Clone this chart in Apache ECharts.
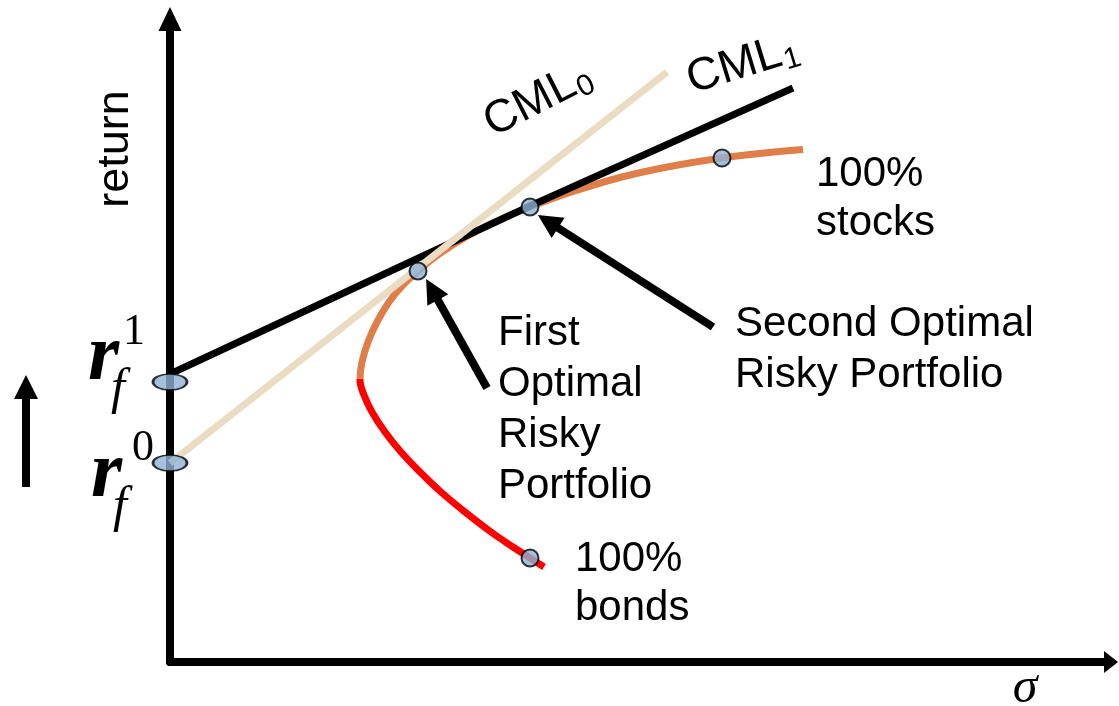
<!DOCTYPE html>
<html>
<head>
<meta charset="utf-8">
<script src="https://cdn.jsdelivr.net/npm/echarts@6/dist/echarts.min.js"></script>
<style>
  html, body { margin: 0; padding: 0; background: #ffffff; }
  #chart { width: 1119px; height: 706px; }
</style>
</head>
<body>
<div id="chart"></div>
<script>
// Risk (sigma) on x, expected return on y, both in arbitrary units.

// Efficient frontier: lower (inefficient) branch from 100% bonds up to the minimum-variance point
const frontierLower = [
  [37.4, 9.5], [36.0, 10.4], [34.3, 11.5], [32.1, 13.0], [29.5, 15.0],
  [27.1, 17.0], [25.0, 19.0], [23.1, 21.0], [21.5, 23.0], [20.2, 25.0],
  [19.4, 26.7], [19.0, 28.2]
];
// Efficient frontier: upper branch from the minimum-variance point to beyond 100% stocks
const frontierUpper = [
  [19.0, 28.2], [19.2, 30.0], [19.8, 32.0], [20.7, 34.0], [21.9, 36.0],
  [23.2, 37.6], [24.8, 39.1], [27.0, 40.85], [30.0, 42.75], [33.0, 44.25],
  [36.0, 45.5], [40.0, 46.95], [45.0, 48.45], [50.0, 49.55], [55.2, 50.4],
  [59.0, 50.85], [63.3, 51.25]
];
// Return level where the red (inefficient) part turns into the orange (efficient) part
const minVarianceReturn = 28.3;
// 100% bonds, first optimal risky portfolio, second optimal risky portfolio, 100% stocks
const portfolios = [[36.0, 10.4], [24.8, 39.1], [36.0, 45.5], [55.2, 50.4]];
// Risk-free rates r_f^1 and r_f^0
const riskFreeRates = [[0, 28.0], [0, 19.9]];
// Capital market lines
const cml0 = [[0, 19.9], [49.7, 59.0]];
const cml1 = [[0, 28.8], [36.0, 45.6], [62.3, 57.4]];
// Pointer arrows from the captions to the optimal portfolios (tail, head)
const pointers = [
  [[31.7, 27.4], [26.2, 37.25]],
  [[54.3, 33.5], [37.8, 44.05]]
];

const frontier = frontierLower.concat(frontierUpper.slice(1));

const sans = "'Liberation Sans', Arial, sans-serif";
const serif = "'Liberation Serif', 'Times New Roman', serif";
const RED = '#ff0000';
const ORANGE = '#df7e48';

function label(x, y, text, font, extra) {
  return Object.assign({
    type: 'text', x: x, y: y, silent: true,
    style: Object.assign({
      text: text, font: font, fill: '#000',
      align: 'left', verticalAlign: 'middle',
      textAlign: 'left', textVerticalAlign: 'middle'
    }, extra && extra.style)
  }, extra && extra.el);
}

// "CML" with a subscript, turned to run along its line
function cmlLabel(x, y, deg, sub) {
  return {
    type: 'group', x: x, y: y, rotation: deg * Math.PI / 180, silent: true,
    children: [
      label(0, 0, 'CML', '46px ' + sans),
      label(98, 10, sub, '30px ' + sans)
    ]
  };
}

const pointStyle = { color: '#8fb2d4', borderColor: '#000', borderWidth: 2 };

const chart = echarts.init(document.getElementById('chart'), null, { renderer: 'canvas' });
chart.setOption({
  animation: false,
  backgroundColor: '#ffffff',
  grid: { left: 170, right: 8, top: 19, bottom: 44 },
  xAxis: {
    type: 'value', min: 0, max: 94.1,
    axisLine: {
      show: true, onZero: false,
      lineStyle: { color: '#000', width: 8 },
      symbol: ['none', 'triangle'], symbolSize: [22, 14]
    },
    axisTick: { show: false }, axisLabel: { show: false }, splitLine: { show: false }
  },
  yAxis: {
    type: 'value', min: 0, max: 64.3,
    axisLine: {
      show: true, onZero: false,
      lineStyle: { color: '#000', width: 8 },
      symbol: ['none', 'triangle'], symbolSize: [23, 24]
    },
    axisTick: { show: false }, axisLabel: { show: false }, splitLine: { show: false }
  },
  series: [
    {
      id: 'frontier', type: 'line', data: frontier, smooth: 0.4, symbol: 'none', z: 2, silent: true,
      lineStyle: { color: ORANGE, width: 7 }
    },
    {
      type: 'line', data: cml1, symbol: 'none', z: 3, silent: true,
      lineStyle: { color: '#000000', width: 7 }
    },
    {
      type: 'line', data: cml0, symbol: 'none', z: 4, silent: true,
      lineStyle: { color: '#eadcc3', width: 7 }
    },
    {
      type: 'lines', coordinateSystem: 'cartesian2d', z: 5, silent: true,
      symbol: ['none', 'triangle'], symbolSize: 24,
      lineStyle: { color: '#000', width: 8, opacity: 1 },
      data: pointers.map(p => ({ coords: p }))
    },
    {
      type: 'scatter', data: portfolios, symbolSize: 17, z: 10, silent: true,
      itemStyle: pointStyle
    },
    {
      type: 'scatter', data: riskFreeRates, symbolSize: [34, 16], z: 10, silent: true,
      itemStyle: pointStyle
    }
  ],
  graphic: [
    // upward shift of the risk-free rate
    {
      type: 'polygon', silent: true,
      shape: { points: [[26, 375], [38, 399], [30, 399], [30, 487], [22, 487], [22, 399], [14, 399]] },
      style: { fill: '#000' }
    },
    label(116, 149, 'return', '45px ' + sans,
      { el: { rotation: Math.PI / 2 }, style: { align: 'center', textAlign: 'center' } }),
    label(1025, 689, 'σ', 'italic 50px ' + serif,
      { style: { align: 'center', textAlign: 'center' } }),
    // r_f^1
    label(88, 358, 'r', 'italic bold 80px ' + serif),
    label(111, 390, 'f', 'italic 50px ' + serif),
    label(123, 332, '1', '44px ' + serif),
    // r_f^0
    label(91, 475, 'r', 'italic bold 80px ' + serif),
    label(113, 508, 'f', 'italic 50px ' + serif),
    label(132, 448, '0', '44px ' + serif),
    cmlLabel(487, 126, 27, '0'),
    cmlLabel(688, 81, 17, '1'),
    label(498, 307.5, 'First\nOptimal\nRisky\nPortfolio', '42px ' + sans,
      { style: { verticalAlign: 'top', textVerticalAlign: 'top', lineHeight: 51 } }),
    label(735, 298.5, 'Second Optimal\nRisky Portfolio', '42px ' + sans,
      { style: { verticalAlign: 'top', textVerticalAlign: 'top', lineHeight: 51 } }),
    label(816, 149.5, '100%\nstocks', '42px ' + sans,
      { style: { verticalAlign: 'top', textVerticalAlign: 'top', lineHeight: 49 } }),
    label(575, 535, '100%\nbonds', '42px ' + sans,
      { style: { verticalAlign: 'top', textVerticalAlign: 'top', lineHeight: 49 } })
  ]
});

// Colour the frontier by return: red below the minimum-variance point, orange above it.
const splitY = chart.convertToPixel({ yAxisIndex: 0 }, minVarianceReturn);
chart.setOption({
  series: [{
    id: 'frontier',
    lineStyle: {
      color: new echarts.graphic.LinearGradient(0, splitY - 1, 0, splitY + 1, [
        { offset: 0, color: ORANGE },
        { offset: 0.5, color: ORANGE },
        { offset: 0.5, color: RED },
        { offset: 1, color: RED }
      ], true)
    }
  }]
});
</script>
</body>
</html>
